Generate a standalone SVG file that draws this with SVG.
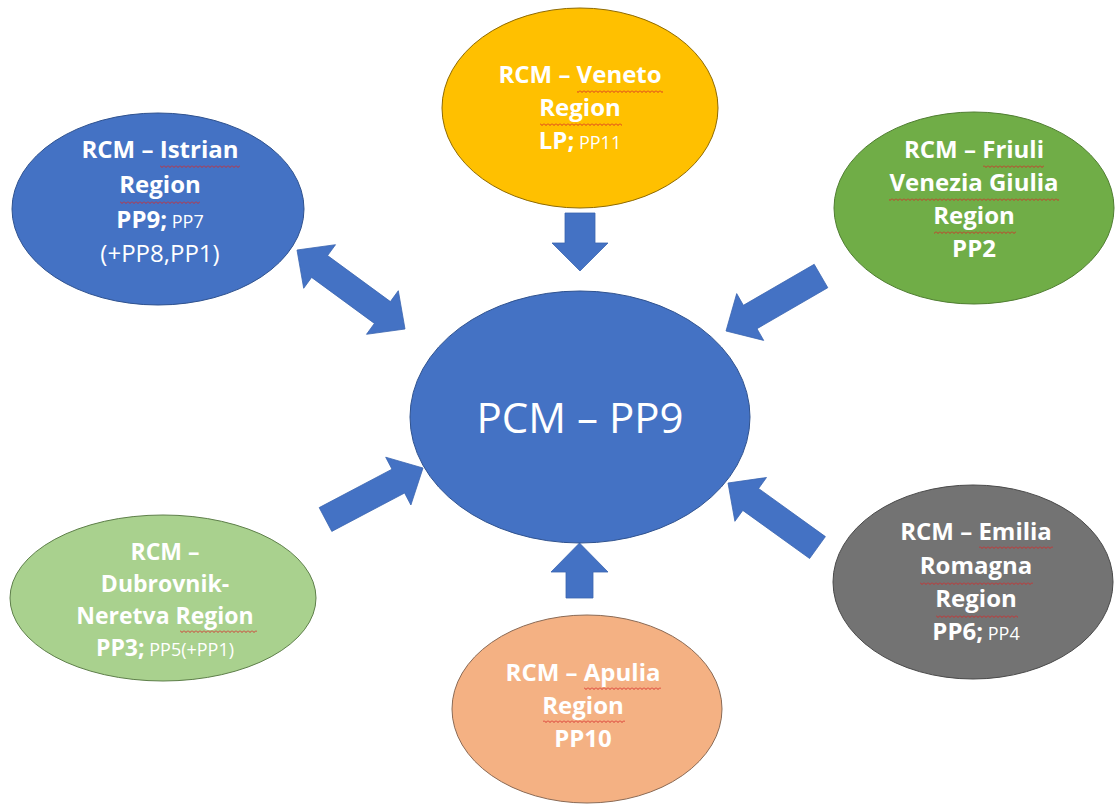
<svg xmlns="http://www.w3.org/2000/svg" width="1115" height="805" viewBox="0 0 1115 805">
<style>
  text { font-family: "Open Sans", "Liberation Sans", sans-serif; fill: #ffffff; text-anchor: middle; }
  .b { font-weight: 700; font-size: 24px; }
  .r { font-weight: 400; font-size: 24px; }
  .s { font-weight: 400; font-size: 18px; }
  .d { font-weight: 700; font-size: 23px; }
  .sq { fill: url(#wavy); }
  .arrow { fill: #4472C4; stroke: #3A64B0; stroke-width: 0.8; stroke-linejoin: miter; }
  .big { font-weight: 400; font-size: 42px; }
</style>
<defs>
  <pattern id="wavy" x="0" y="0" width="4" height="3" patternUnits="userSpaceOnUse">
    <path d="M0,0.5 L2,2.5 L4,0.5" fill="none" stroke="#D62828" stroke-width="0.9"/>
  </pattern>
</defs>
<rect x="0" y="0" width="1115" height="805" fill="#ffffff"/>

<g id="connectors">
  <polygon class="arrow" points="565,213 595,213 595,243 608,243 580,271 552,243 565,243"/>
  <polygon class="arrow" points="566,598 593,598 593,572 608,572 579.5,543 551,572 566,572"/>
  <polygon class="arrow" points="814.2,264.3 743.4,305.3 736.7,293.6 726,331 763.7,340.4 757,328.7 827.8,287.7"/>
  <polygon class="arrow" points="331.8,531.4 404.6,493 410.9,505 423,468 385.7,457.2 392,469.2 319.2,507.6"/>
  <polygon class="arrow" points="825.4,536.6 758.6,488.5 766.5,477.5 728,483 734.9,521.3 742.8,510.4 809.6,558.5"/>
  <polygon class="arrow" points="297,250 303.7,288.3 311.6,277.4 374.4,323.4 366.5,334.3 405,329 398.3,290.7 390.4,301.6 327.6,255.6 335.5,244.7"/>
</g>

<g id="node-pcm">
  <ellipse cx="580" cy="417" rx="170" ry="126" fill="#4472C4" stroke="#2F528F" stroke-width="1"/>
  <text class="big" x="580" y="433">PCM – PP9</text>
</g>

<g id="node-istrian">
  <ellipse cx="158" cy="209" rx="146" ry="96" fill="#4472C4" stroke="#2F528F" stroke-width="1"/>
  <text x="160" y="158" class="b">RCM – Istrian</text>
  <text x="160" y="193" class="b">Region</text>
  <text x="160" y="228"><tspan class="b">PP9;</tspan><tspan class="s"> PP7</tspan></text>
  <text x="160" y="262" class="r">(+PP8,PP1)</text>
  <rect class="sq" x="160" y="165" width="80" height="3"/>
  <rect class="sq" x="120" y="201" width="80" height="3"/>
</g>

<g id="node-veneto">
  <ellipse cx="580" cy="108" rx="138" ry="100" fill="#FFC000" stroke="#8F6A00" stroke-width="1"/>
  <text x="580" y="83" class="b">RCM – Veneto</text>
  <text x="580" y="116" class="b">Region</text>
  <text x="580" y="149"><tspan class="b">LP;</tspan><tspan class="s"> PP11</tspan></text>
  <rect class="sq" x="577" y="90" width="86" height="3"/>
  <rect class="sq" x="540" y="123" width="82" height="3"/>
</g>

<g id="node-friuli">
  <ellipse cx="974" cy="208" rx="140" ry="96" fill="#70AD47" stroke="#507E32" stroke-width="1"/>
  <text x="974" y="158" class="b">RCM – Friuli</text>
  <text x="974" y="191" class="b">Venezia Giulia</text>
  <text x="974" y="224" class="b">Region</text>
  <text x="974" y="257" class="b">PP2</text>
  <rect class="sq" x="983" y="165" width="61" height="3"/>
  <rect class="sq" x="889" y="198" width="170" height="3"/>
  <rect class="sq" x="934" y="231" width="82" height="3"/>
</g>

<g id="node-dubrovnik">
  <ellipse cx="163" cy="598" rx="153" ry="83" fill="#A9D18E" stroke="#5E7F4A" stroke-width="1"/>
  <text x="165" y="560" class="d">RCM –</text>
  <text x="165" y="592" class="d">Dubrovnik-</text>
  <text x="165" y="624" class="d">Neretva Region</text>
  <text x="165" y="656"><tspan class="d">PP3;</tspan><tspan class="s"> PP5(+PP1)</tspan></text>
  <rect class="sq" x="180" y="630" width="77" height="3"/>
</g>

<g id="node-emilia">
  <ellipse cx="973" cy="582" rx="140" ry="97" fill="#737373" stroke="#4A4A4A" stroke-width="1"/>
  <text x="976" y="540" class="b">RCM – Emilia</text>
  <text x="976" y="574" class="b">Romagna</text>
  <text x="976" y="607" class="b">Region</text>
  <text x="976" y="640"><tspan class="b">PP6;</tspan><tspan class="s"> PP4</tspan></text>
  <rect class="sq" x="979" y="546" width="74" height="3"/>
  <rect class="sq" x="920" y="582" width="113" height="3"/>
  <rect class="sq" x="936" y="615" width="82" height="3"/>
</g>

<g id="node-apulia">
  <ellipse cx="587" cy="709" rx="135" ry="94" fill="#F4B183" stroke="#8A6A55" stroke-width="1"/>
  <text x="583" y="681" class="b">RCM – Apulia</text>
  <text x="583" y="714" class="b">Region</text>
  <text x="583" y="747" class="b">PP10</text>
  <rect class="sq" x="584" y="687" width="77" height="3"/>
  <rect class="sq" x="543" y="720" width="82" height="3"/>
</g>
</svg>
